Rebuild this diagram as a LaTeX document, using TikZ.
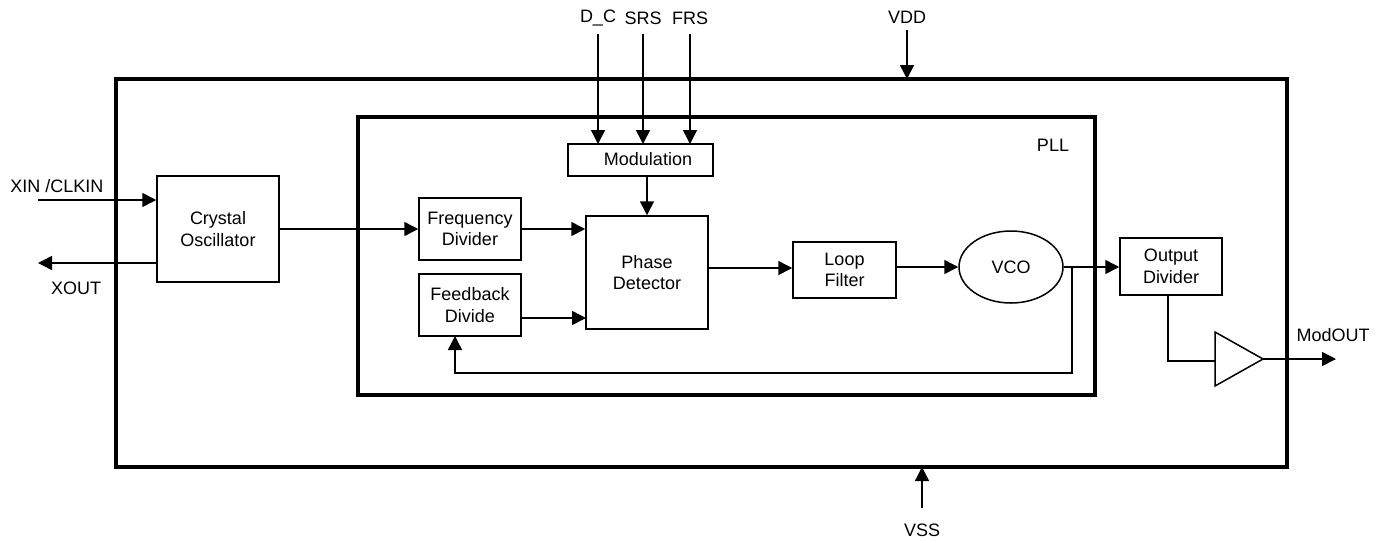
\documentclass[tikz,border=0pt]{standalone}
\usepackage{fontspec}
\setmainfont{Liberation Sans}
\usetikzlibrary{arrows.meta,shapes.geometric}
\begin{document}
\begin{tikzpicture}[x=1pt,y=-1pt,
  font=\fontsize{18}{21.5}\selectfont,
  thin line/.style={line width=1.5pt},
  thick frame/.style={line width=4pt},
  blk/.style={draw,line width=1.5pt,inner sep=0pt,align=center},
  arr/.style={line width=1.5pt,-{Triangle[length=14pt,width=14pt]}},
  lbl/.style={inner sep=0pt}]
\useasboundingbox (0,0) rectangle (1384,542);
% frames
\node[draw,thick frame,minimum width=1171pt,minimum height=388pt,inner sep=0pt] (outer) at (701.5,273) {};
\node[draw,thick frame,minimum width=737pt,minimum height=278pt,inner sep=0pt] (pll) at (726.5,256) {};
\node[lbl] (plllbl) at (1053,145) {PLL};
% blocks
\node[blk,minimum width=122pt,minimum height=106pt] (xo) at (218,229) {Crystal\\Oscillator};
\node[blk,minimum width=102pt,minimum height=62pt] (fd) at (470,229) {Frequency\\Divider};
\node[blk,minimum width=102pt,minimum height=62pt] (fb) at (470,305) {Feedback\\Divide};
\node[blk,minimum width=145pt,minimum height=32pt] (mod) at (640.5,160) {};
\node[lbl] (modtxt) at (648,159) {Modulation};
\node[blk,minimum width=122pt,minimum height=113pt] (pd) at (647,272.5) {Phase\\Detector};
\node[blk,minimum width=103pt,minimum height=56pt] (lf) at (844.5,270) {Loop\\Filter};
\node[draw,ellipse,line width=1.5pt,minimum width=104pt,minimum height=72pt,inner sep=0pt] (vco) at (1011,267) {VCO};
\node[blk,minimum width=102pt,minimum height=57pt] (od) at (1171,266.5) {Output\\Divider};
\coordinate (tl) at (1215,332);
\coordinate (bl) at (1215,386);
\coordinate (tip) at (1263,359);
\draw[line width=1.5pt,line join=miter] (tl) -- (tip) -- (bl) -- cycle;
% pins
\node[lbl] (xin) at (57,186) {XIN /CLKIN};
\coordinate (xinS) at (38,200);
\node[lbl] (xout) at (76,288) {XOUT};
\coordinate (xoutE) at (38,263);
\node[lbl] (dc) at (598,18) {D\_C};
\node[lbl] (srs) at (643,18) {SRS};
\node[lbl] (frs) at (690,18) {FRS};
\node[lbl] (vdd) at (907,17) {VDD};
\node[lbl] (vss) at (922,530) {VSS};
\node[lbl] (modout) at (1333,335) {ModOUT};
\coordinate (modoutE) at (1336,359);
% connectors
\draw[arr] (xinS) -- (xinS -| xo.west);
\draw[arr] (xoutE -| xo.west) -- (xoutE);
\draw[arr] (xo.east |- fd.west) -- (fd.west);
\draw[arr] (598,34) -- (598,144);
\draw[arr] (643,34) -- (643,144);
\draw[arr] (690,34) -- (690,144);
\draw[arr] (907,30) -- (907,79);
\draw[arr] (922,508) -- (922,467);
\draw[arr] (647,176) -- (pd.north);
\draw[arr] (fd.east) -- (fd.east -| pd.west);
\draw[arr] (521,318) -- (586,318);
\draw[arr] (708,268) -- (lf.west |- 0,268);
\draw[arr] (lf.east |- vco.west) -- (vco.west);
\draw[arr] (vco.east) -- (od.west |- vco.east);
\draw[arr] (1072,267) -- (1072,373) -- (455,373) -- (455,336);
\draw[thin line] (1168,295) -- (1168,361) -- (1215,361);
\draw[arr] (tip) -- (modoutE);
\end{tikzpicture}
\end{document}
